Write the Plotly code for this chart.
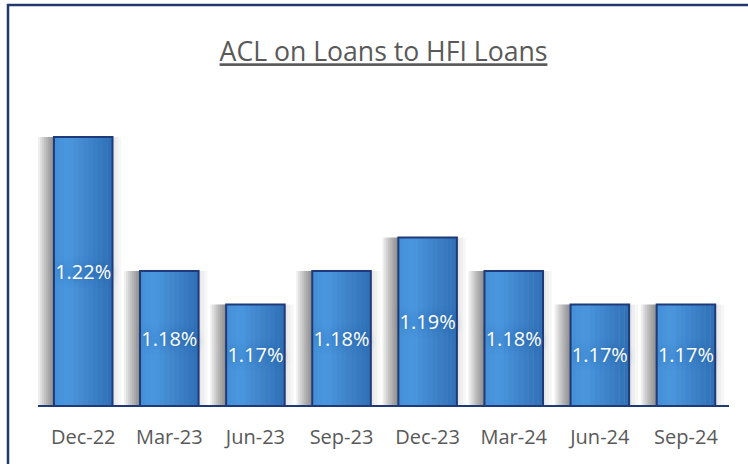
import plotly.graph_objects as go

categories = ["Dec-22", "Mar-23", "Jun-23", "Sep-23", "Dec-23", "Mar-24", "Jun-24", "Sep-24"]
values = [1.22, 1.18, 1.17, 1.18, 1.19, 1.18, 1.17, 1.17]
labels = [f"{v:.2f}%" for v in values]
title_text = "ACL on Loans to HFI Loans"
y_min, y_max = 1.14, 1.24

FONT = "Open Sans"
BAR_W = 0.68
NAVY = "#1F3A78"

fig = go.Figure()

# soft shadow behind bars (shifted to the left)
px = 1 / 86.4
for shift in range(2, 18, 2):
    fig.add_trace(go.Bar(
        x=categories, y=values,
        offset=-BAR_W / 2 - shift * px, width=BAR_W,
        marker=dict(color="rgba(0,0,0,0.065)", line=dict(width=0)),
        hoverinfo="skip", showlegend=False,
    ))
for grow in (3, 6, 9):
    fig.add_trace(go.Bar(
        x=categories, y=values,
        offset=-BAR_W / 2, width=BAR_W + grow * px,
        marker=dict(color="rgba(0,0,0,0.03)", line=dict(width=0)),
        hoverinfo="skip", showlegend=False,
    ))

# horizontal gradient fill built from vertical strips
def lerp(c1, c2, t):
    return "#%02x%02x%02x" % tuple(int(round(a + (b - a) * t)) for a, b in zip(c1, c2))

left_c = (0x44, 0x90, 0xD8)
mid_c = (0x4A, 0x97, 0xDF)
right_c = (0x30, 0x6F, 0xB5)
N = 12
sw = BAR_W / N
for i in range(N):
    t = (i + 0.5) / N
    if t < 0.25:
        col = lerp(left_c, mid_c, t / 0.25)
    else:
        col = lerp(mid_c, right_c, (t - 0.25) / 0.75)
    fig.add_trace(go.Bar(
        x=categories, y=values,
        offset=-BAR_W / 2 + i * sw, width=sw + (0.004 if i < N - 1 else 0),
        marker=dict(color=col, line=dict(width=0)),
        hoverinfo="skip", showlegend=False,
    ))

# outline
fig.add_trace(go.Bar(
    x=categories, y=values,
    offset=-BAR_W / 2, width=BAR_W,
    marker=dict(color="rgba(0,0,0,0)", line=dict(color=NAVY, width=2)),
    hoverinfo="skip", showlegend=False,
))

# value labels centred in each bar
fig.add_trace(go.Scatter(
    x=categories, y=[(y_min + v) / 2 - 0.0008 for v in values],
    mode="text", text=labels, textposition="middle center",
    textfont=dict(family=FONT, size=20, color="white",
                  shadow="0px 0px 8px #1E5AA0"),
    hoverinfo="skip", showlegend=False,
))

fig.update_layout(
    width=748, height=464,
    barmode="overlay",
    margin=dict(l=38, r=19, t=70, b=59),
    paper_bgcolor="white", plot_bgcolor="white",
    title=dict(text=f"<u>{title_text}</u>", x=0.5, xref="paper",
               y=1 - 52 / 464, yref="container", yanchor="middle", xanchor="center",
               font=dict(family=FONT, size=26.6, color="#595959")),
    xaxis=dict(type="category", showline=True, linecolor=NAVY, linewidth=2,
               showgrid=False, ticks="outside", ticklen=13, tickcolor="rgba(0,0,0,0)",
               tickfont=dict(family=FONT, size=20, color="#595959"), zeroline=False),
    yaxis=dict(range=[y_min, y_max], visible=False, showgrid=False, zeroline=False),
    shapes=[dict(type="rect", xref="paper", yref="paper",
                 x0=(8 - 38) / 691, x1=1.2, y0=-0.6, y1=(405 - 5) / 335,
                 line=dict(color="#203A70", width=2.5), fillcolor="rgba(0,0,0,0)",
                 layer="below")],
)

fig.write_html("out.html", config={"displayModeBar": False},
               post_script="document.body.style.margin='0px';")
